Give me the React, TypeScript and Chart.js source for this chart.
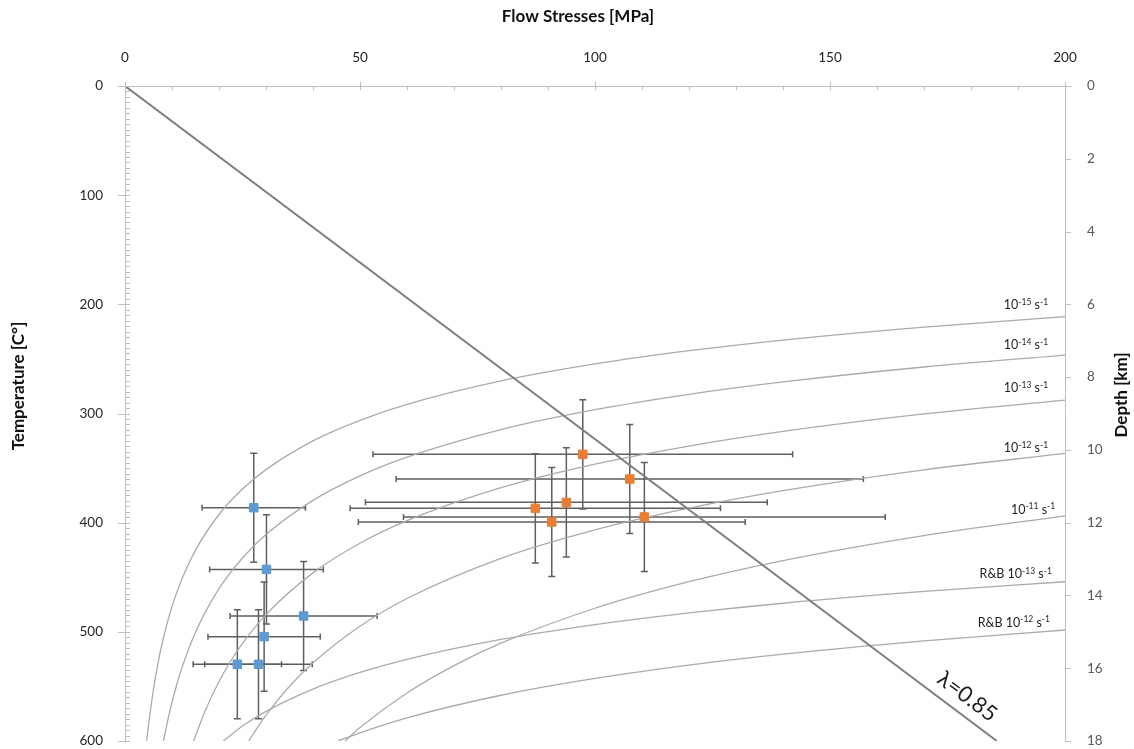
import React, { useEffect, useRef } from 'react';
import { Chart, registerables } from 'chart.js';

Chart.register(...registerables);

// ---------------- data ----------------
// lambda = 0.85 line (stress MPa, temperature °C)
const lambdaStress = [0, 185.5];
const lambdaTemp = [0, 600];

// blue samples
const blueStress = [27.4, 30.1, 38.0, 29.6, 23.9, 28.4];
const blueTemp = [386.3, 442.8, 485.5, 504.4, 529.7, 529.7];
const blueStressErr = [11.0, 12.1, 15.65, 11.95, 9.4, 11.45];
const blueTempErr = [50, 50, 50, 50, 50, 50];

// orange samples
const orangeStress = [97.4, 107.4, 93.9, 87.3, 90.8, 110.5];
const orangeTemp = [337.4, 360.0, 381.4, 386.9, 399.4, 394.8];
const orangeStressErr = [44.65, 49.7, 42.75, 39.4, 41.15, 51.25];
const orangeTempErr = [50, 50, 50, 50, 50, 50];

// strain-rate curves
const c15Stress = [4.6, 5, 6, 7, 8, 9, 10, 12, 15, 20, 25, 30, 40, 50, 60, 80, 100, 120, 140, 170, 200];
const c15Temp = [600, 585.8, 554.2, 529.2, 508.8, 491.6, 476.9, 452.7, 425.1, 392.5, 369.2, 351.4, 325.1, 306.3, 291.7, 270.2, 254.6, 242.5, 232.7, 220.8, 211.3];

const c14Stress = [8.2, 9, 10, 11, 12, 15, 20, 25, 30, 40, 50, 60, 80, 100, 120, 140, 170, 200];
const c14Temp = [600, 582.9, 564.5, 548.5, 534.4, 500.4, 460.5, 432.4, 410.9, 379.6, 357.2, 340.0, 314.7, 296.5, 282.4, 271.1, 257.4, 246.5];

const c13Stress = [14.6, 15, 17, 20, 22.5, 25, 30, 40, 50, 60, 80, 100, 120, 140, 170, 200];
const c13Temp = [600, 595.4, 572.9, 545.5, 526.7, 510.6, 484.2, 446.0, 418.9, 398.2, 368.0, 346.4, 329.8, 316.4, 300.4, 287.7];

const c12Stress = [26.3, 30, 35, 40, 50, 60, 80, 100, 120, 140, 170, 200];
const c12Temp = [600, 576.2, 549.9, 528.4, 494.9, 469.5, 432.7, 406.6, 386.7, 370.7, 351.6, 336.6];

const c11Stress = [46.8, 50, 60, 70, 80, 100, 120, 140, 170, 200];
const c11Temp = [600, 587.7, 556.0, 530.9, 510.4, 478.4, 454.1, 434.7, 411.8, 393.7];

const rb13Stress = [20.9, 25, 30, 40, 50, 60, 80, 100, 120, 140, 170, 200];
const rb13Temp = [600, 586.3, 572.8, 552.4, 537.2, 525.2, 507.0, 493.4, 482.7, 473.8, 463.0, 454.1];

const rb12Stress = [45.3, 50, 60, 80, 100, 120, 140, 170, 200];
const rb12Temp = [600, 592.5, 578.8, 558.1, 542.7, 530.5, 520.5, 508.3, 498.3];

// curve labels
const curveLabelPrefix = ['', '', '', '', '', 'R&B ', 'R&B '];
const curveLabelExp = ['-15', '-14', '-13', '-12', '-11', '-13', '-12'];
const curveLabelStress = [196.4, 196.4, 196.4, 196.4, 197.9, 197.2, 196.8];
const curveLabelTemp = [200.6, 237.2, 276.6, 331.6, 387.5, 447.0, 491.0];

const lambdaLabel = 'λ=0.85';
const lambdaLabelStress = 179.2;
const lambdaLabelTemp = 559.2;

// ---------------- helpers ----------------
const pts = (xs: number[], ys: number[]) => xs.map((x, i) => ({ x, y: ys[i] }));

const curves = [
  [c15Stress, c15Temp],
  [c14Stress, c14Temp],
  [c13Stress, c13Temp],
  [c12Stress, c12Temp],
  [c11Stress, c11Temp],
  [rb13Stress, rb13Temp],
  [rb12Stress, rb12Temp],
];

const FONT = 'Lato, "Open Sans", sans-serif';

const overlay = {
  id: 'overlay',
  beforeDatasetsDraw(chart: any) {
    const { ctx } = chart;
    const xs = chart.scales.x;
    const ys = chart.scales.y;
    const series = [
      [blueStress, blueTemp, blueStressErr, blueTempErr],
      [orangeStress, orangeTemp, orangeStressErr, orangeTempErr],
    ];
    ctx.save();
    ctx.strokeStyle = '#5f5f5f';
    ctx.lineWidth = 1.5;
    for (const [S, T, SE, TE] of series) {
      for (let i = 0; i < S.length; i++) {
        const px = xs.getPixelForValue(S[i]);
        const py = ys.getPixelForValue(T[i]);
        const x1 = xs.getPixelForValue(S[i] - SE[i]);
        const x2 = xs.getPixelForValue(S[i] + SE[i]);
        const y1 = ys.getPixelForValue(T[i] - TE[i]);
        const y2 = ys.getPixelForValue(T[i] + TE[i]);
        ctx.beginPath();
        ctx.moveTo(x1, py); ctx.lineTo(x2, py);
        ctx.moveTo(x1, py - 3); ctx.lineTo(x1, py + 3);
        ctx.moveTo(x2, py - 3); ctx.lineTo(x2, py + 3);
        ctx.moveTo(px, y1); ctx.lineTo(px, y2);
        ctx.moveTo(px - 3.5, y1); ctx.lineTo(px + 3.5, y1);
        ctx.moveTo(px - 3.5, y2); ctx.lineTo(px + 3.5, y2);
        ctx.stroke();
      }
    }
    ctx.restore();
  },
  afterDraw(chart: any) {
    const { ctx, chartArea } = chart;
    const xs = chart.scales.x;
    const ys = chart.scales.y;
    const ys2 = chart.scales.y2;
    const { left, right, top, bottom } = chartArea;
    ctx.save();
    // axis lines
    ctx.strokeStyle = '#bfbfbf';
    ctx.lineWidth = 1;
    ctx.beginPath();
    ctx.moveTo(left, top + 0.5); ctx.lineTo(right, top + 0.5);
    ctx.moveTo(left + 0.5, top); ctx.lineTo(left + 0.5, bottom);
    ctx.moveTo(right + 0.5, top); ctx.lineTo(right + 0.5, bottom);
    // top ticks
    for (let v = 0; v <= 200; v += 10) {
      const x = Math.round(xs.getPixelForValue(v)) + 0.5;
      if (v % 50 === 0) { ctx.moveTo(x, top - 4); ctx.lineTo(x, top + 4); }
      else { ctx.moveTo(x, top); ctx.lineTo(x, top + 4); }
    }
    // left ticks
    for (let v = 0; v <= 600; v += 5) {
      const y = Math.round(ys.getPixelForValue(v)) + 0.5;
      if (v % 100 === 0) { ctx.moveTo(left - 7, y); ctx.lineTo(left + 5, y); }
      else { ctx.moveTo(left, y); ctx.lineTo(left + 5, y); }
    }
    // right ticks
    for (let v = 0; v <= 18; v += 2) {
      const y = Math.round(ys2.getPixelForValue(v)) + 0.5;
      ctx.moveTo(right, y); ctx.lineTo(right + 6, y);
    }
    ctx.stroke();

    // curve labels with superscripts
    ctx.fillStyle = '#1e1e1e';
    const baseFont = `12.5px ${FONT}`;
    const supFont = `8.5px ${FONT}`;
    for (let i = 0; i < curveLabelExp.length; i++) {
      const parts: [string, boolean][] = [
        [curveLabelPrefix[i] + '10', false],
        [curveLabelExp[i], true],
        [' s', false],
        ['-1', true],
      ];
      let w = 0;
      for (const [t, sup] of parts) { ctx.font = sup ? supFont : baseFont; w += ctx.measureText(t).width; }
      let x = xs.getPixelForValue(curveLabelStress[i]) - w;
      const baseY = ys.getPixelForValue(curveLabelTemp[i]) + 4.5;
      ctx.textBaseline = 'alphabetic';
      ctx.textAlign = 'left';
      for (const [t, sup] of parts) {
        ctx.font = sup ? supFont : baseFont;
        ctx.fillText(t, x, sup ? baseY - 4.5 : baseY);
        x += ctx.measureText(t).width;
      }
    }

    // lambda label
    const ang = Math.atan2(
      ys.getPixelForValue(lambdaTemp[1]) - ys.getPixelForValue(lambdaTemp[0]),
      xs.getPixelForValue(lambdaStress[1]) - xs.getPixelForValue(lambdaStress[0])
    );
    ctx.save();
    ctx.translate(xs.getPixelForValue(lambdaLabelStress), ys.getPixelForValue(lambdaLabelTemp));
    ctx.rotate(ang);
    ctx.font = `22px ${FONT}`;
    ctx.textAlign = 'center';
    ctx.textBaseline = 'middle';
    ctx.fillStyle = '#1e1e1e';
    ctx.fillText(lambdaLabel, 0, 0);
    ctx.restore();

    // axis titles
    ctx.font = `bold 17px ${FONT}`;
    ctx.fillStyle = '#111';
    ctx.textAlign = 'center';
    ctx.textBaseline = 'middle';
    ctx.fillText('Flow Stresses [MPa]', 578, 17);
    ctx.save();
    ctx.translate(19, 386);
    ctx.rotate(-Math.PI / 2);
    ctx.fillText('Temperature [C°]', 0, 0);
    ctx.restore();
    ctx.save();
    ctx.translate(1122, 395);
    ctx.rotate(-Math.PI / 2);
    ctx.fillText('Depth [km]', 0, 0);
    ctx.restore();

    ctx.restore();
  },
};

export default function App() {
  const ref = useRef<HTMLCanvasElement>(null);
  useEffect(() => {
    if (!ref.current) return;
    const datasets: any[] = [
      {
        label: 'blue',
        data: pts(blueStress, blueTemp),
        backgroundColor: '#5b9bd5',
        borderColor: '#5b9bd5',
        borderWidth: 1,
        pointStyle: 'rect',
        pointRadius: 6,
        showLine: false,
      },
      {
        label: 'orange',
        data: pts(orangeStress, orangeTemp),
        backgroundColor: '#ed7d31',
        borderColor: '#ed7d31',
        borderWidth: 1,
        pointStyle: 'rect',
        pointRadius: 6,
        showLine: false,
      },
      {
        label: 'lambda',
        data: pts(lambdaStress, lambdaTemp),
        showLine: true,
        borderColor: '#7f7f7f',
        borderWidth: 2,
        pointRadius: 0,
      },
      ...curves.map((c, i) => ({
        label: 'curve' + i,
        data: pts(c[0], c[1]),
        showLine: true,
        borderColor: '#ababab',
        borderWidth: 1.3,
        pointRadius: 0,
        cubicInterpolationMode: 'monotone',
      })),
    ];
    const tickFont = { family: FONT, size: 13.5 };
    const noPad = (s: any) => { s.paddingTop = 0; s.paddingBottom = 0; };
    const chart = new Chart(ref.current, {
      type: 'scatter',
      data: { datasets },
      options: {
        responsive: false,
        animation: false,
        events: [],
        layout: { padding: { top: 0, left: 0, right: 0, bottom: 8 } },
        plugins: { legend: { display: false }, tooltip: { enabled: false } },
        scales: {
          x: {
            type: 'linear',
            position: 'top',
            min: 0,
            max: 200,
            grid: { display: false },
            border: { display: false },
            ticks: { stepSize: 50, padding: 12, color: '#262626', font: tickFont, maxRotation: 0 },
            afterFit: (s: any) => { s.height = 86; s.paddingLeft = 0; s.paddingRight = 0; },
          },
          y: {
            type: 'linear',
            position: 'left',
            min: 0,
            max: 600,
            reverse: true,
            grid: { display: false },
            border: { display: false },
            ticks: { stepSize: 100, padding: 14, color: '#262626', font: tickFont },
            afterFit: (s: any) => { s.width = 125; noPad(s); },
          },
          y2: {
            type: 'linear',
            position: 'right',
            min: 0,
            max: 18,
            reverse: true,
            grid: { display: false },
            border: { display: false },
            ticks: { stepSize: 2, padding: 14, color: '#595959', font: tickFont },
            afterFit: (s: any) => { s.width = 69; noPad(s); },
          },
        },
      } as any,
      plugins: [overlay],
    });
    return () => chart.destroy();
  }, []);
  return (
    <div style={{ position: 'fixed', left: 0, top: 0, width: 1134, height: 749, background: '#fff' }}>
      <canvas ref={ref} width={1134} height={749} style={{ width: 1134, height: 749, display: 'block' }} />
    </div>
  );
}
